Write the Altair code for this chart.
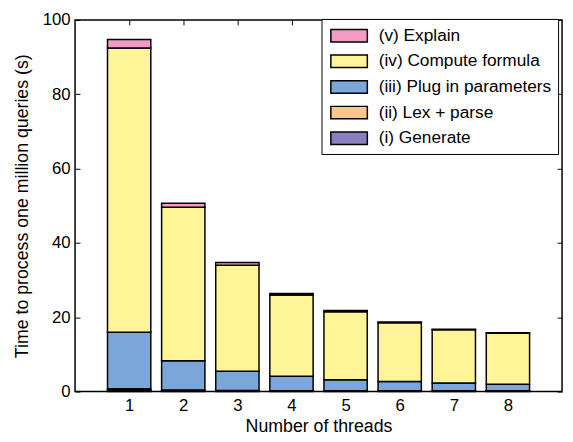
import altair as alt
import pandas as pd

# ---- data ----
threads = [1, 2, 3, 4, 5, 6, 7, 8]
stages = ["(v) Explain", "(iv) Compute formula", "(iii) Plug in parameters",
          "(ii) Lex + parse", "(i) Generate"]
colors = ["#F39BC4", "#FFF598", "#7BA6D9", "#FFC688", "#8A80BF"]

generate = [0.40, 0.20, 0.15, 0.10, 0.10, 0.10, 0.10, 0.10]
lex_parse = [0.35, 0.20, 0.15, 0.10, 0.10, 0.10, 0.10, 0.10]
plug_in = [15.2, 7.9, 5.2, 3.9, 3.0, 2.5, 2.1, 1.8]
compute = [76.5, 41.3, 28.5, 21.9, 18.3, 15.8, 14.35, 13.7]
explain = [2.3, 1.1, 0.7, 0.4, 0.3, 0.2, 0.15, 0.1]

x_ticks = [1, 2, 3, 4, 5, 6, 7, 8]
y_ticks = [0, 20, 40, 60, 80, 100]

series = {
    "(i) Generate": generate,
    "(ii) Lex + parse": lex_parse,
    "(iii) Plug in parameters": plug_in,
    "(iv) Compute formula": compute,
    "(v) Explain": explain,
}
rows = []
for order, (name, vals) in enumerate(series.items()):
    for t, v in zip(threads, vals):
        rows.append({"threads": t, "stage": name, "value": v, "ord": order})
df = pd.DataFrame(rows)

W, H = 494, 377
FONT = "Liberation Sans"
xdom = [0, 9]
ydom = [0, 100]

bars = alt.Chart(df).transform_stack(
    stack="value", groupby=["threads"], as_=["y0", "y1"],
    sort=[alt.SortField("ord", order="ascending")],
).transform_calculate(
    xlo="datum.threads - 0.4", xhi="datum.threads + 0.4"
).mark_rect(stroke="black", strokeWidth=1.5, opacity=1).encode(
    x=alt.X("xlo:Q", scale=alt.Scale(domain=xdom, nice=False, zero=False),
            axis=alt.Axis(values=x_ticks, tickSize=0, labelPadding=6, domain=False,
                          grid=False, title="Number of threads", titlePadding=4,
                          labelFontSize=17, titleFontSize=18, format="d")),
    x2="xhi:Q",
    y=alt.Y("y0:Q", scale=alt.Scale(domain=ydom, nice=False),
            axis=alt.Axis(values=y_ticks, tickSize=0, labelPadding=5, domain=False,
                          grid=False, title="Time to process one million queries (s)",
                          titlePadding=11, labelFontSize=17, titleFontSize=18)),
    y2="y1:Q",
    color=alt.Color("stage:N",
                    scale=alt.Scale(domain=stages, range=colors),
                    legend=alt.Legend(title=None, orient="none", legendX=250, legendY=-1,
                                      direction="vertical",
                                      labelExpr="datum.label + '\u00a0\u00a0'")),
)

tick_axis = dict(labels=False, domain=False, grid=False, title=None, tickSize=5,
                 tickWidth=1, tickColor="black")

ticks_a = alt.Chart(df).mark_point(opacity=0).encode(
    x=alt.X("threads:Q", scale=alt.Scale(domain=xdom, nice=False, zero=False),
            axis=alt.Axis(orient="top", offset=-H, values=x_ticks, **tick_axis)),
    y=alt.Y("value:Q", scale=alt.Scale(domain=ydom, nice=False),
            axis=alt.Axis(orient="right", offset=-W, values=y_ticks, **tick_axis)),
)
ticks_b = alt.Chart(df).mark_point(opacity=0).encode(
    x=alt.X("threads:Q", scale=alt.Scale(domain=xdom, nice=False, zero=False),
            axis=alt.Axis(orient="bottom", offset=-H, values=x_ticks, **tick_axis)),
    y=alt.Y("value:Q", scale=alt.Scale(domain=ydom, nice=False),
            axis=alt.Axis(orient="left", offset=-W, values=y_ticks, **tick_axis)),
)

chart = alt.layer(bars, ticks_a, ticks_b).resolve_scale(
    x="independent", y="independent"
).properties(
    width=W, height=H,
    autosize=alt.AutoSizeParams(type="none"),
    padding={"left": 68, "top": 9, "right": 3, "bottom": 44},
).configure_view(
    stroke="black", strokeWidth=1.5
).configure_axis(
    labelFont=FONT, titleFont=FONT, labelColor="black", titleColor="black",
    titleFontWeight="normal",
).configure_legend(
    labelFont=FONT, labelFontSize=17.5, labelColor="black", labelLimit=400,
    symbolType="M-0.75,-0.63L2.95,-0.63L2.95,0.63L-0.75,0.63Z", symbolSize=400,
    symbolStrokeColor="black", symbolStrokeWidth=1.5, symbolOpacity=1,
    labelOffset=30, rowPadding=5, padding=6,
    strokeColor="black", fillColor="white", cornerRadius=0,
)

chart.save("out.html", embed_options={"renderer": "svg", "actions": False})
